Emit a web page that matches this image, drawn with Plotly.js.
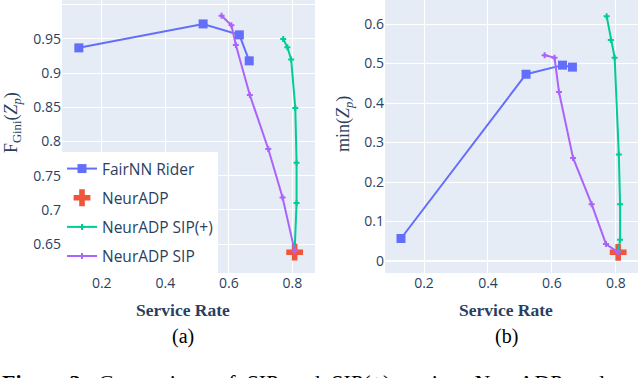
<!DOCTYPE html>
<html>
<head>
<meta charset="utf-8">
<script src="https://cdn.plot.ly/plotly-3.0.1.min.js"></script>
<style>
  html, body { margin: 0; padding: 0; background: #fff; }
  #chart { width: 640px; height: 378px; }
</style>
</head>
<body>
<div id="chart"></div>
<script>
// service rate (x) of each method
const fairX   = [0.128, 0.519, 0.633, 0.664];
const neurX   = [0.807];
const sipPlusX = [0.771, 0.784, 0.796, 0.809, 0.813, 0.813, 0.807];
const sipX    = [0.577, 0.608, 0.622, 0.666, 0.724, 0.769, 0.807];

// (a) F_Gini(Z_p)
const fairGini    = [0.937, 0.972, 0.956, 0.918];
const neurGini    = [0.638];
const sipPlusGini = [0.950, 0.938, 0.920, 0.849, 0.769, 0.710, 0.640];
const sipGini     = [0.984, 0.970, 0.941, 0.868, 0.789, 0.718, 0.640];

// (b) min(Z_p)
const fairMin    = [0.057, 0.473, 0.496, 0.491];
const neurMin    = [0.022];
const sipPlusMin = [0.620, 0.560, 0.515, 0.270, 0.144, 0.054, 0.024];
const sipMin     = [0.521, 0.515, 0.428, 0.261, 0.144, 0.043, 0.022];

const giniTicks = [0.65, 0.7, 0.75, 0.8, 0.85, 0.9, 0.95, 1.0];
const giniTickText = ['0.65', '0.7', '0.75', '0.8', '0.85', '0.9', '0.95', ''];

const names = ['FairNN Rider', 'NeurADP', 'NeurADP SIP(+)', 'NeurADP SIP'];
const colors = ['#636efa', '#EF553B', '#00cc96', '#ab63fa'];

function traces(ys, xa, ya, legend) {
  return [
    { x: fairX, y: ys[0], name: names[0], legendgroup: 'g0', mode: 'lines+markers', xaxis: xa, yaxis: ya, showlegend: legend,
      line: {color: colors[0], width: 2}, marker: {symbol: 'square', size: 9, color: colors[0]} },
    { x: neurX, y: ys[1], name: names[1], legendgroup: 'g1', mode: 'markers', xaxis: xa, yaxis: ya, showlegend: legend,
      marker: {symbol: 'cross', size: 14, color: colors[1]} },
    { x: sipPlusX, y: ys[2], name: names[2], legendgroup: 'g2', mode: 'lines+markers', xaxis: xa, yaxis: ya, showlegend: legend,
      line: {color: colors[2], width: 2}, marker: {symbol: 'cross', size: 5, color: colors[2]} },
    { x: sipX, y: ys[3], name: names[3], legendgroup: 'g3', mode: 'lines+markers', xaxis: xa, yaxis: ya, showlegend: legend,
      line: {color: colors[3], width: 2}, marker: {symbol: 'cross', size: 5, color: colors[3]} }
  ];
}

const data = traces([fairGini, neurGini, sipPlusGini, sipGini], 'x', 'y', true)
  .concat(traces([fairMin, neurMin, sipPlusMin, sipMin], 'x2', 'y2', false));

const axisBase = {
  gridcolor: 'white', gridwidth: 1, zerolinecolor: 'white', zerolinewidth: 2,
  showline: false, ticks: '', tickfont: {size: 14, color: '#2a3f5f'}
};
const serif = 'Liberation Serif, DejaVu Serif, serif';

function note(text, px, py, size, color, extra) {
  return Object.assign({
    text: text, xref: 'paper', yref: 'paper', x: px / 640, y: 1 - py / 378,
    xanchor: 'center', yanchor: 'middle', showarrow: false,
    font: {family: serif, size: size, color: color}
  }, extra || {});
}

const layout = {
  width: 640, height: 378,
  margin: {l: 0, r: 0, t: 0, b: 0},
  paper_bgcolor: 'white', plot_bgcolor: '#E5ECF6',
  font: {family: 'Open Sans, sans-serif', color: '#2a3f5f', size: 14},
  xaxis: Object.assign({}, axisBase, {domain: [62/640, 315/640], range: [0.075, 0.871],
    tickvals: [0.2, 0.4, 0.6, 0.8], anchor: 'y'}),
  yaxis: Object.assign({}, axisBase, {domain: [1 - 273/378, 1], range: [0.6076, 1.007],
    tickvals: giniTicks, ticktext: giniTickText, anchor: 'x'}),
  xaxis2: Object.assign({}, axisBase, {domain: [385/640, 638/640], range: [0.078, 0.869],
    tickvals: [0.2, 0.4, 0.6, 0.8], anchor: 'y2'}),
  yaxis2: Object.assign({}, axisBase, {domain: [1 - 273/378, 1], range: [-0.0304, 0.661],
    dtick: 0.1, anchor: 'x2'}),
  legend: {x: 62/640, xanchor: 'left', y: 1 - 273/378, yanchor: 'bottom',
    bgcolor: 'white', font: {size: 15.5, color: '#2a3f5f'},
    traceorder: 'grouped', tracegroupgap: 6},
  annotations: [
    note('<b>Service Rate</b>', 183, 310, 17.5, '#2a3f5f'),
    note('<b>Service Rate</b>', 506, 310, 17.5, '#2a3f5f'),
    note('F<sub>Gini</sub>(<i>Z<sub>p</sub></i>)', 13, 123, 18, '#2a3f5f', {textangle: -90}),
    note('min(<i>Z<sub>p</sub></i>)', 344, 124, 18, '#2a3f5f', {textangle: -90}),
    note('(a)', 183, 336, 20, 'black'),
    note('(b)', 506, 336, 20, 'black'),
    note('<b>Figure 3:</b> &nbsp;Comparison &nbsp;of &nbsp;SIP &nbsp;and &nbsp;SIP(+) &nbsp;against &nbsp;NeurADP &nbsp;and', 0, 382, 22, 'black',
      {xanchor: 'left'})
  ]
};

Plotly.newPlot('chart', data, layout, {displayModeBar: false, staticPlot: true});
</script>
</body>
</html>
